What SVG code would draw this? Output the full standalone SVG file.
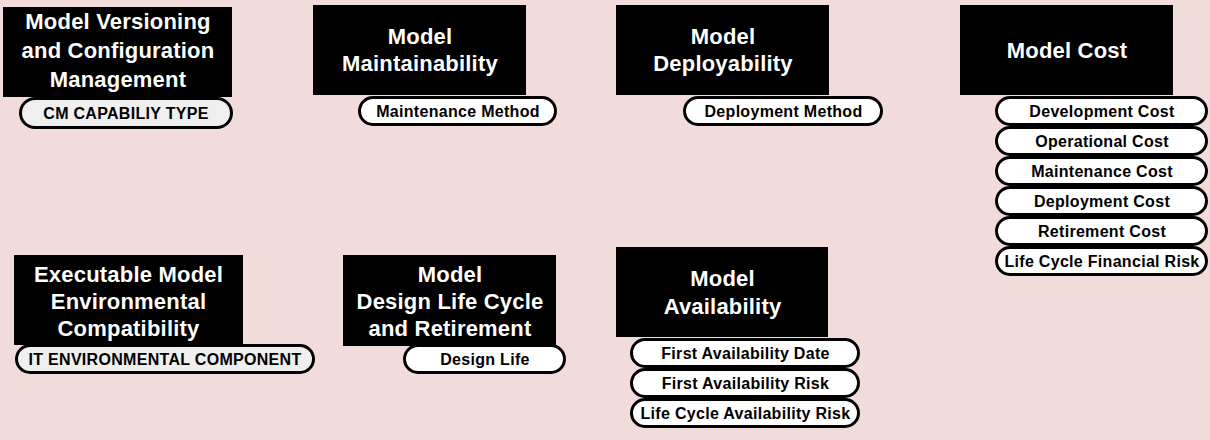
<svg xmlns="http://www.w3.org/2000/svg" width="1210" height="440" viewBox="0 0 1210 440">
<style>
.bg{fill:#f2dcdb}
.box{fill:#000}
.title{font-family:"Liberation Sans",Arial,sans-serif;font-weight:bold;font-size:22px;fill:#fff;text-anchor:middle;letter-spacing:0.2px}
.pill{fill:#fff;stroke:#000;stroke-width:3}
.pill.grey{fill:#efefef}
.pt{font-family:"Liberation Sans",Arial,sans-serif;font-weight:bold;font-size:16px;fill:#000;text-anchor:middle;letter-spacing:0.3px}
</style>
<rect class="bg" x="0" y="0" width="1210" height="440"/>
<g id="connectors"></g>

<g id="node-versioning">
<rect class="box" x="3" y="7" width="229" height="90"/>
<text class="title" x="118" y="29">Model Versioning</text>
<text class="title" x="118" y="58">and Configuration</text>
<text class="title" x="118" y="86.5">Management</text>
<rect class="pill grey" x="20.5" y="98.5" width="211" height="29" rx="14.5"/>
<text class="pt" x="126" y="119">CM CAPABILIY TYPE</text>
</g>

<g id="node-maintainability">
<rect class="box" x="313" y="5" width="213" height="90"/>
<text class="title" x="420" y="43.5">Model</text>
<text class="title" x="420" y="70.5">Maintainability</text>
<rect class="pill" x="359.5" y="97.5" width="196" height="27" rx="13.5"/>
<text class="pt" x="458" y="117">Maintenance Method</text>
</g>

<g id="node-deployability">
<rect class="box" x="616" y="5" width="213" height="90"/>
<text class="title" x="723" y="43.5">Model</text>
<text class="title" x="723" y="70.5">Deployability</text>
<rect class="pill" x="684.5" y="97.5" width="197" height="27" rx="13.5"/>
<text class="pt" x="783.5" y="117">Deployment Method</text>
</g>

<g id="node-cost">
<rect class="box" x="960" y="5" width="213" height="90"/>
<text class="title" x="1067" y="58">Model Cost</text>
<rect class="pill" x="996.5" y="97.5" width="210" height="27" rx="13.5"/>
<text class="pt" x="1102" y="117">Development Cost</text>
<rect class="pill" x="996.5" y="127.5" width="210" height="27" rx="13.5"/>
<text class="pt" x="1102" y="147">Operational Cost</text>
<rect class="pill" x="996.5" y="157.5" width="210" height="27" rx="13.5"/>
<text class="pt" x="1102" y="177">Maintenance Cost</text>
<rect class="pill" x="996.5" y="187.5" width="210" height="27" rx="13.5"/>
<text class="pt" x="1102" y="207">Deployment Cost</text>
<rect class="pill" x="996.5" y="217.5" width="210" height="27" rx="13.5"/>
<text class="pt" x="1102" y="237">Retirement Cost</text>
<rect class="pill" x="996.5" y="247.5" width="210" height="27" rx="13.5"/>
<text class="pt" x="1102" y="267">Life Cycle Financial Risk</text>
</g>

<g id="node-environmental">
<rect class="box" x="14" y="255" width="229" height="90"/>
<text class="title" x="128.5" y="282">Executable Model</text>
<text class="title" x="128.5" y="308.5">Environmental</text>
<text class="title" x="128.5" y="335.5">Compatibility</text>
<rect class="pill grey" x="16.5" y="345.5" width="297" height="27" rx="13.5"/>
<text class="pt" x="165" y="365">IT ENVIRONMENTAL COMPONENT</text>
</g>

<g id="node-designlife">
<rect class="box" x="343" y="255" width="213" height="91"/>
<text class="title" x="450" y="282">Model</text>
<text class="title" x="450" y="308.5">Design Life Cycle</text>
<text class="title" x="450" y="335.5">and Retirement</text>
<rect class="pill" x="404.5" y="345.5" width="160" height="27" rx="13.5"/>
<text class="pt" x="485" y="365">Design Life</text>
</g>

<g id="node-availability">
<rect class="box" x="616" y="247" width="212" height="90"/>
<text class="title" x="722.5" y="285.5">Model</text>
<text class="title" x="722.5" y="313.5">Availability</text>
<rect class="pill" x="631.5" y="339.5" width="227" height="27" rx="13.5"/>
<text class="pt" x="745.5" y="359">First Availability Date</text>
<rect class="pill" x="631.5" y="369.5" width="227" height="27" rx="13.5"/>
<text class="pt" x="745.5" y="389">First Availability Risk</text>
<rect class="pill" x="631.5" y="399.5" width="227" height="27" rx="13.5"/>
<text class="pt" x="745.5" y="419">Life Cycle Availability Risk</text>
</g>
</svg>
